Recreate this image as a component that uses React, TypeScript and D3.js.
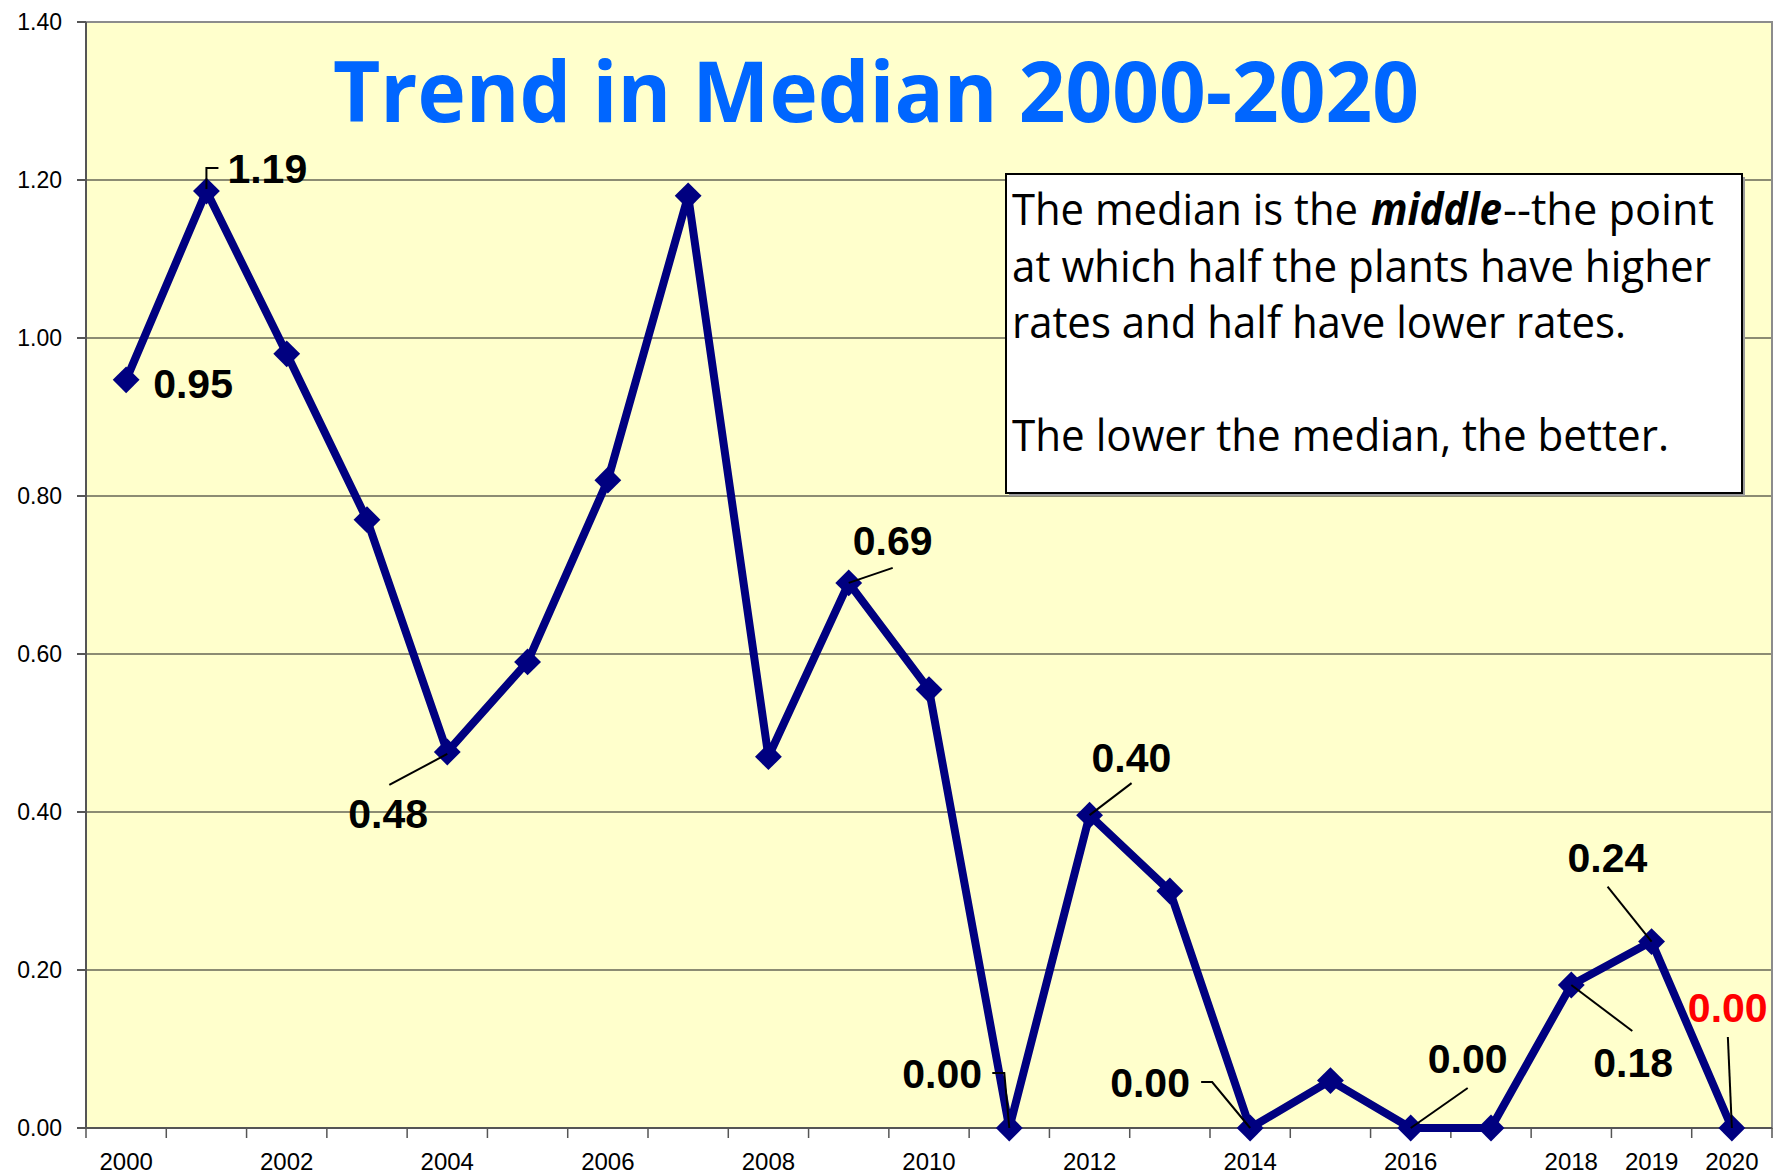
import React from "react";
import * as d3 from "d3";

const years = ["2000","2001","2002","2003","2004","2005","2006","2007","2008","2009","2010","2011","2012","2013","2014","2015","2016","2017","2018","2019","2020"];
const medians = [0.947, 1.186, 0.98, 0.77, 0.476, 0.59, 0.82, 1.18, 0.47, 0.69, 0.555, 0, 0.396, 0.30, 0, 0.06, 0, 0, 0.181, 0.236, 0];
const shownYearLabels = ["2000","2002","2004","2006","2008","2010","2012","2014","2016","2018","2019","2020"];
const labeledYears = ["2000","2001","2004","2009","2011","2012","2014","2016","2018","2019","2020"];
const highlightYears = ["2020"];
const yTickValues = [0, 0.2, 0.4, 0.6, 0.8, 1.0, 1.2, 1.4];
const titleText = "Trend in Median 2000-2020";
const noteFirstLine = ["The median is the", "middle", "--the point"];
const noteOtherLines = [
  "at which half the plants have higher",
  "rates and half have lower rates.",
  "",
  "The lower the median, the better.",
];

// layout (pixel offsets of label text and leader lines relative to the point)
const labelLayout: Record<string, { dx: number; dy: number; leader: number[][] }> = {
  "2000": { dx: 27, dy: 18, leader: [] },
  "2001": { dx: 21, dy: -8, leader: [[0, -2], [0, -23], [12, -23]] },
  "2004": { dx: -99, dy: 76, leader: [[0, 2], [-58, 33]] },
  "2009": { dx: 4, dy: -28, leader: [[0, 0], [44, -15]] },
  "2011": { dx: -107, dy: -40, leader: [[0, 0], [-5, -55], [-17, -55]] },
  "2012": { dx: 2, dy: -43, leader: [[0, 0], [42, -32]] },
  "2014": { dx: -140, dy: -31, leader: [[0, 0], [-38, -46], [-49, -46]] },
  "2016": { dx: 17, dy: -55, leader: [[0, 0], [57, -40]] },
  "2018": { dx: 22, dy: 92, leader: [[0, 0], [61, 46]] },
  "2019": { dx: -84, dy: -70, leader: [[0, 0], [-44, -55]] },
  "2020": { dx: -44, dy: -106, leader: [[0, 0], [-4, -91]] },
};

const W = 1781, H = 1175;
const L = 86, R = 1772, T = 22, B = 1128;

export default function App() {
  const x = d3.scaleBand<string>().domain(years).range([L, R]).padding(0);
  const y = d3.scaleLinear().domain([0, 1.4]).range([B, T]);
  const cx = (yr: string) => (x(yr) as number) + x.bandwidth() / 2;
  const fmt = d3.format(".2f");
  const pts = years.map((yr, i) => ({ yr, v: medians[i], px: cx(yr), py: y(medians[i]) }));
  const line = d3.line<any>().x(d => d.px).y(d => d.py);
  const diamond = d3.symbol().type(d3.symbolSquare).size(360)();
  const boundaries = d3.range(years.length + 1).map(i => L + i * x.bandwidth());
  const lineFont = "'Open Sans', 'Noto Sans', sans-serif";
  const firstParts = [
    { x: 1012, len: 346, bold: false },
    { x: 1371, len: 131, bold: true },
    { x: 1503, len: 211, bold: false },
  ];
  const otherWidths = [699, 614, 0, 657];

  return (
    <svg width={W} height={H} style={{ position: "absolute", left: 0, top: 0, background: "#fff" }}>
      <rect x={L} y={T} width={R - L} height={B - T} fill="#FFFFCC" />
      {yTickValues.map(t => (
        <line key={"g" + t} x1={L} x2={R} y1={y(t)} y2={y(t)} stroke="#1a1a1a" strokeWidth={1.2} />
      ))}
      <rect x={L} y={T} width={R - L} height={B - T} fill="none" stroke="#8c8c8c" strokeWidth={2} />
      <line x1={L} x2={L} y1={T} y2={B} stroke="#555" strokeWidth={2} />
      <line x1={L} x2={R} y1={B} y2={B} stroke="#555" strokeWidth={2} />
      {yTickValues.map(t => (
        <g key={"yt" + t}>
          <line x1={L - 9} x2={L} y1={y(t)} y2={y(t)} stroke="#555" strokeWidth={2} />
          <text x={62} y={y(t) + 8} textAnchor="end" fontFamily="'Liberation Sans', Arial, sans-serif" fontSize={23} fill="#000">{fmt(t)}</text>
        </g>
      ))}
      {boundaries.map((bx, i) => (
        <line key={"xt" + i} x1={bx} x2={bx} y1={B} y2={B + 10} stroke="#555" strokeWidth={1.5} />
      ))}
      {shownYearLabels.map(yr => (
        <text key={"xl" + yr} x={cx(yr)} y={1170} textAnchor="middle" fontFamily="'Liberation Sans', Arial, sans-serif" fontSize={24} fill="#000">{yr}</text>
      ))}

      <path d={line(pts) as string} fill="none" stroke="#000080" strokeWidth={8} strokeLinejoin="round" />
      {pts.map(p => (
        <path key={"m" + p.yr} d={diamond as string} transform={`translate(${p.px},${p.py}) rotate(45)`} fill="#000080" />
      ))}

      {pts.filter(p => labeledYears.includes(p.yr)).map(p => {
        const lay = labelLayout[p.yr];
        const lp = lay.leader.map(([a, b]) => [p.px + a, p.py + b] as [number, number]);
        return (
          <g key={"lab" + p.yr}>
            {lp.length > 1 && <path d={d3.line()(lp) as string} fill="none" stroke="#000" strokeWidth={2} />}
            <text x={p.px + lay.dx} y={p.py + lay.dy} fontFamily="'Liberation Sans', Arial, sans-serif" fontWeight="bold" fontSize={41}
              fill={highlightYears.includes(p.yr) ? "#FF0000" : "#000"}>{fmt(p.v)}</text>
          </g>
        );
      })}

      <rect x={1009} y={177} width={736} height={319} fill="#9a9a9a" />
      <rect x={1006} y={174} width={736} height={319} fill="#fff" stroke="#000" strokeWidth={2} />
      {noteFirstLine.map((s, i) => (
        <text key={"f" + i} x={firstParts[i].x} y={225} fontFamily={lineFont} fontSize={44} fill="#000"
          fontWeight={firstParts[i].bold ? "bold" : "normal"} fontStyle={firstParts[i].bold ? "italic" : "normal"}
          textLength={firstParts[i].len} lengthAdjust="spacingAndGlyphs">{s}</text>
      ))}
      {noteOtherLines.map((s, i) => (
        s === "" ? null : (
          <text key={"n" + i} x={1012} y={225 + (i + 1) * 56.5} fontFamily={lineFont} fontSize={44} fill="#000"
            textLength={otherWidths[i]} lengthAdjust="spacingAndGlyphs">{s}</text>
        )
      ))}

      <text x={333} y={121.7} fontFamily={lineFont} fontWeight="bold" fontSize={84} fill="#0066FF"
        textLength={1086} lengthAdjust="spacingAndGlyphs">{titleText}</text>
    </svg>
  );
}
